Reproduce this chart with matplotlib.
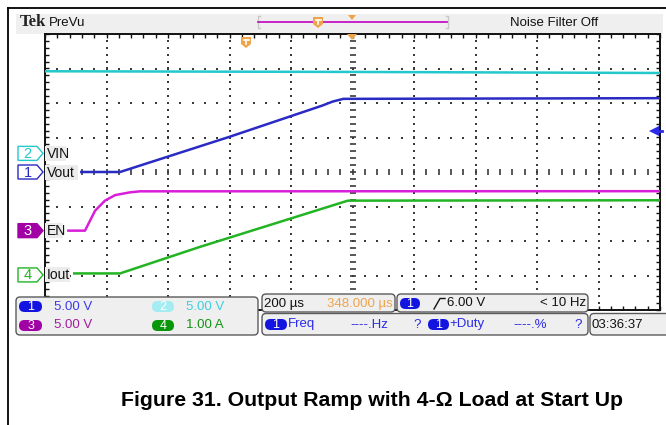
import matplotlib
matplotlib.use('Agg')
import matplotlib.pyplot as plt
from matplotlib.patches import FancyBboxPatch, Polygon, Rectangle
import numpy as np

# ---------------- data ----------------
time_vin_us = [0, 1000, 2000]
vin_volts = [11.9, 11.8, 11.65]

time_vout_us = [114, 244, 600, 900, 935, 970, 2000]
vout_volts = [0.0, 0.0, 5.1, 9.6, 10.2, 10.6, 10.7]

time_en_us = [72, 130, 163, 195, 228, 276, 309, 2000]
en_volts = [0.0, 0.0, 2.9, 4.35, 5.15, 5.55, 5.7, 5.72]

time_iout_us = [91, 244, 504, 985, 2000]
iout_amps = [0.0, 0.0, 0.77, 2.11, 2.12]

ch_numbers = ['1', '2', '3', '4']
ch_names = ['Vout', 'VIN', 'EN', 'Iout']
ch_scale = [5.0, 5.0, 5.0, 1.0]
ch_scale_text = ['5.00 V', '5.00 V', '5.00 V', '1.00 A']
ch_offset_div = [0.0, 0.54, -1.70, -2.94]

time_per_div_us = 200
n_hdiv, n_vdiv = 10, 8
trigger_level_v = 6.00
horiz_text = '200 µs'
position_text = '348.000 µs'
trigger_text = '6.00 V'
freq_text = '< 10 Hz'
clock_text = '03:36:37'
caption = 'Figure 31. Output Ramp with 4-Ω Load at Start Up'

# ---------------- styling ----------------
C_CH1, C_CH2, C_CH3, C_CH4 = '#2a2ac4', '#22c8cc', '#d81ed8', '#22b422'
T_CH1, T_CH2, T_CH3, T_CH4 = '#3b3be6', '#3ccfe0', '#a21ca2', '#139413'
P_CH1, P_CH2, P_CH3, P_CH4 = '#1414e0', '#a4ecf2', '#a000a4', '#0a960a'
ORANGE = '#f0a44a'
NARROW = ['Liberation Sans', 'DejaVu Sans']

W, H = 666, 425
fig = plt.figure(figsize=(W / 100, H / 100), dpi=100)
fig.patch.set_facecolor('white')

# scope graticule axes
GX0, GX1, GY0, GY1 = 45, 660, 34, 310
ax = fig.add_axes([GX0 / W, 1 - GY1 / H, (GX1 - GX0) / W, (GY1 - GY0) / H], zorder=2)
tmax = n_hdiv * time_per_div_us
ax.set_xlim(0, tmax)
ax.set_ylim(-n_vdiv / 2, n_vdiv / 2)
ax.axis('off')

# overlay axes in pixel coordinates
ov = fig.add_axes([0, 0, 1, 1], zorder=5)
ov.set_xlim(0, W)
ov.set_ylim(H, 0)
ov.axis('off')
ov.patch.set_alpha(0)

# background (under graticule) in pixel coords
bg = fig.add_axes([0, 0, 1, 1], zorder=0)
bg.set_xlim(0, W)
bg.set_ylim(H, 0)
bg.axis('off')

# ---------------- graticule ----------------
GRID = '#3a3a3a'
minor_t = np.arange(0, tmax + 1, time_per_div_us / 5)
minor_v = np.arange(-4, 4.001, 0.2)
for k in range(1, n_hdiv):
    t = k * time_per_div_us
    if k == n_hdiv // 2:
        ax.plot([t] * len(minor_v), minor_v, ls='none', marker='_', ms=5, mew=1.2, color=GRID, clip_on=False)
    else:
        ax.plot([t] * len(minor_v), minor_v, ls='none', marker='s', ms=1.5, mew=0, color=GRID)
for v in range(-3, 4):
    if v == 0:
        ax.plot(minor_t, [0] * len(minor_t), ls='none', marker='|', ms=5, mew=1.2, color=GRID)
    else:
        ax.plot(minor_t, [v] * len(minor_t), ls='none', marker='s', ms=1.5, mew=0, color=GRID)
# edges with ticks
tick_v = 4 / 34.5
tick_t = 4 * time_per_div_us / 61.5
for yv, sgn in [(4, -1), (-4, 1)]:
    ax.plot([0, tmax], [yv, yv], color='#111111', lw=1.4, clip_on=False)
    ax.vlines(minor_t, yv, yv + sgn * tick_v, color='#111111', lw=1.0, clip_on=False)
for xt, sgn in [(0, 1), (tmax, -1)]:
    ax.plot([xt, xt], [-4, 4], color='#111111', lw=1.4, clip_on=False)
    ax.hlines(minor_v, xt, xt + sgn * tick_t, color='#111111', lw=1.0, clip_on=False)

# ---------------- traces ----------------
def trace(t, vals, ch, color):
    y = np.array(vals) / ch_scale[ch] + ch_offset_div[ch]
    ax.plot(t, y, color=color, lw=1.8, solid_joinstyle='round', solid_capstyle='butt', zorder=4)

trace(time_vin_us, vin_volts, 1, C_CH2)
trace(time_vout_us, vout_volts, 0, C_CH1)
trace(time_en_us, en_volts, 2, C_CH3)
trace(time_iout_us, iout_amps, 3, C_CH4)

# trigger level marker (right edge)
trig_div = trigger_level_v / ch_scale[0] + ch_offset_div[0]
ax.plot([tmax - 20], [trig_div], marker='<', ms=7, color='#2a2ae8', mew=0, clip_on=False, zorder=6)
ax.plot([tmax - 20, tmax + 5], [trig_div, trig_div], color='#2a2ae8', lw=2, clip_on=False, zorder=6)

# ---------------- helpers ----------------
def rbox(axx, x0, y0, x1, y1, fc, ec, r=3, lw=1.0, z=1):
    p = FancyBboxPatch((x0, y0), x1 - x0, y1 - y0, boxstyle=f'round,pad=0,rounding_size={r}',
                       fc=fc, ec=ec, lw=lw, zorder=z)
    axx.add_patch(p)

def pill(x0, x1, yc, fc, label, h=11, tc='white'):
    rbox(ov, x0, yc - h / 2, x1, yc + h / 2, fc, 'none', r=h / 2, lw=0, z=3)
    ov.text((x0 + x1) / 2, yc + 0.5, label, ha='center', va='center', color=tc,
            fontsize=9, family=NARROW, zorder=4)

def txt(x, y, s, color='#111111', size=9.5, ha='left', **kw):
    ov.text(x, y, s, ha=ha, va='center', color=color, fontsize=size, family=NARROW, zorder=4, **kw)

# ---------------- frame & top bar ----------------
bg.plot([8, 8], [7.5, H], color='black', lw=1.3)
bg.plot([8, W], [7.5, 7.5], color='black', lw=1.3)
bg.add_patch(Rectangle((16, 14), 647, 19.5, fc='#efefef', ec='none'))
ov.text(20, 22, 'Tek', ha='left', va='center', fontsize=12, fontweight='bold',
        family=['Liberation Serif', 'DejaVu Serif'], color='#222222', zorder=4)
txt(49, 22.5, 'PreVu', size=9.5)
txt(554, 22.5, 'Noise Filter Off', size=9.5, ha='center')
# record view bar
ov.plot([260, 258, 258, 260], [16, 16, 28, 28], color='#c8c8c8', lw=1)
ov.plot([446, 448, 448, 446], [16, 16, 28, 28], color='#c8c8c8', lw=1)
ov.plot([258, 447], [22, 22], color='#c000c0', lw=1.2)

def tmarker(xc, y0):
    ov.add_patch(Polygon([(xc - 5, y0), (xc + 5, y0), (xc + 5, y0 + 7), (xc, y0 + 11), (xc - 5, y0 + 7)],
                         closed=True, fc=ORANGE, ec='none', zorder=5))
    ov.plot([xc - 2.5, xc + 2.5], [y0 + 2.5, y0 + 2.5], color='white', lw=1.2, zorder=6)
    ov.plot([xc, xc], [y0 + 2.5, y0 + 7], color='white', lw=1.2, zorder=6)

tmarker(318, 17)
tmarker(246, 37)
ov.add_patch(Polygon([(348, 15), (356, 15), (352, 20)], closed=True, fc=ORANGE, ec='none', zorder=5))
ov.add_patch(Polygon([(347, 34), (357, 34), (352, 40)], closed=True, fc=ORANGE, ec='none', zorder=5))

# ---------------- channel markers & labels ----------------
def div_to_py(d):
    return GY0 + (n_vdiv / 2 - d) / n_vdiv * (GY1 - GY0)

marker_style = [(C_CH1, 'white', C_CH1), (C_CH2, 'white', C_CH2), (P_CH3, P_CH3, 'white'), (C_CH4, 'white', C_CH4)]
label_w = [33, 21, 18, 25]
for i in range(4):
    yc = div_to_py(ch_offset_div[i])
    if i == 3:
        yc += 1.5
    ec, fc, tc = marker_style[i]
    ov.add_patch(Polygon([(18, yc - 7), (37, yc - 7), (43, yc), (37, yc + 7), (18, yc + 7)],
                         closed=True, fc=fc, ec=ec, lw=1.0, zorder=5))
    ov.text(27.5, yc + 0.5, ch_numbers[i], ha='center', va='center', color=tc, fontsize=10.5,
            family=NARROW, zorder=6)
    ov.add_patch(Rectangle((45, yc - 7.5), label_w[i], 15, fc='#ececec', ec='none', zorder=5))
    ov.text(46.5, yc + 0.5, ch_names[i], ha='left', va='center', color='#111111', fontsize=10,
            family=NARROW, zorder=6)

# ---------------- readout panels ----------------
PANEL_FC, PANEL_EC = '#efefef', '#5a5a5a'
rbox(ov, 16, 297, 258, 335, PANEL_FC, PANEL_EC, r=4, lw=1.0, z=2)
rbox(ov, 262, 294, 395, 312, PANEL_FC, PANEL_EC, r=4, lw=1.0, z=2)
rbox(ov, 397, 294, 588, 312, PANEL_FC, PANEL_EC, r=4, lw=1.0, z=2)
rbox(ov, 262, 313.5, 588, 335, PANEL_FC, PANEL_EC, r=4, lw=1.0, z=2)
rbox(ov, 590, 313.5, 672, 335, PANEL_FC, PANEL_EC, r=4, lw=1.0, z=2)

row1, row2 = 306.5, 325.5
pill(19, 42, row1, P_CH1, ch_numbers[0])
txt(54, row1, ch_scale_text[0], color=T_CH1)
pill(152, 174, row1, P_CH2, ch_numbers[1])
txt(186, row1, ch_scale_text[1], color=T_CH2)
pill(19, 42, row2, P_CH3, ch_numbers[2])
txt(54, row2, ch_scale_text[2], color=T_CH3)
pill(152, 174, row2, P_CH4, ch_numbers[3])
txt(186, row2, ch_scale_text[3], color=T_CH4)

rowb = 303.5
txt(264, rowb, horiz_text)
txt(393, rowb, position_text, color=ORANGE, ha='right')
pill(400, 420, rowb, P_CH1, '1')
ov.plot([434, 440, 445], [309, 298.5, 298.5], color='#111111', lw=1.0, zorder=4)
txt(447, rowb, trigger_text)
txt(586, rowb, freq_text, ha='right')

rowd = 324.5
pill(265, 287, rowd, P_CH1, '1')
txt(288, rowd, 'Freq', color='#2a2ae8')
txt(350, rowd, '----.Hz', color='#2a2ae8')
txt(413, rowd, '?', color='#2a2ae8')
pill(428, 449, rowd, P_CH1, '1')
txt(449, rowd, '+Duty', color='#2a2ae8')
txt(513, rowd, '----.%', color='#2a2ae8')
txt(574, rowd, '?', color='#2a2ae8')
txt(592, rowd, clock_text)

# ---------------- caption ----------------
ov.text(372, 401, caption, ha='center', va='center', fontsize=15.3, fontweight='bold',
        family=['Liberation Sans', 'DejaVu Sans'], color='black', zorder=4)

fig.savefig('out.png', dpi=100)
